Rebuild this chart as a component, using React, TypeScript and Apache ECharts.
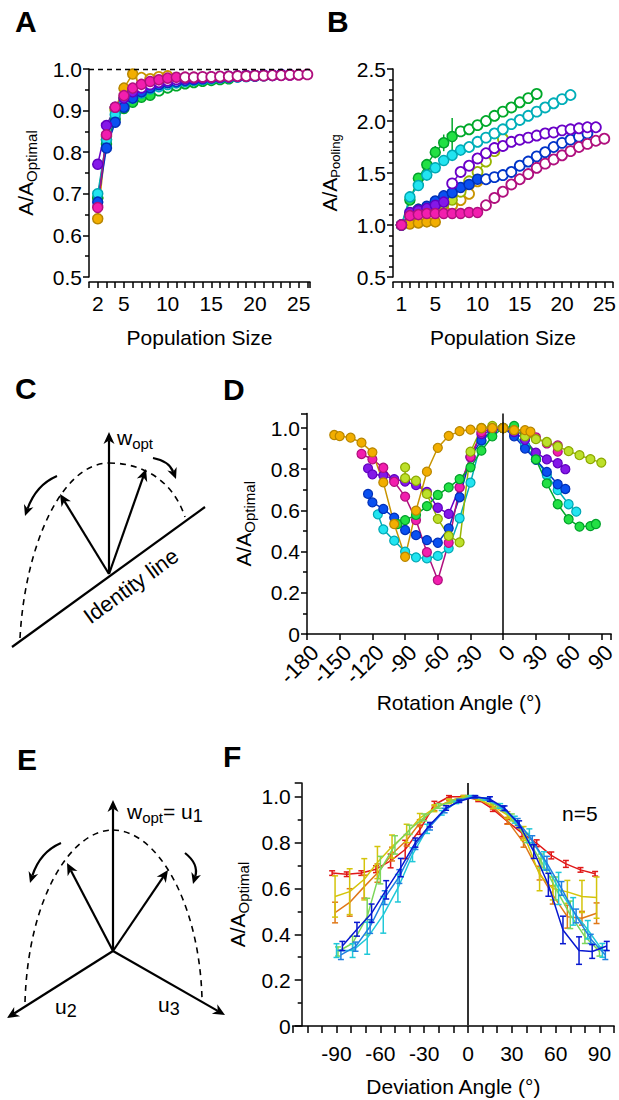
import React, { useEffect, useRef } from 'react';
import * as echarts from 'echarts';

const FONT = '"Liberation Sans", Arial, Helvetica, sans-serif';
const LS = 21; // tick label size

// ================= Panel A (x = population size, starting at 2) =================
const A_X0 = 2;
const A_ORANGE = [0.640, 0.838, 0.905, 0.954, 0.988, 0.979, 0.976, 0.981, 0.983];
const A_YG = [0.690, 0.830, 0.900, 0.930, 0.945, 0.955, 0.962, 0.968, 0.972, 0.975, 0.977, 0.979];
const A_GREEN = [0.690, 0.820, 0.880, 0.905, 0.920, 0.932, 0.937, 0.948, 0.955, 0.960, 0.965, 0.968, 0.971, 0.973, 0.975, 0.977];
const A_CYAN = [0.700, 0.830, 0.890, 0.915, 0.930, 0.942, 0.952, 0.958, 0.963, 0.967, 0.970, 0.973, 0.975, 0.977, 0.979, 0.980, 0.981, 0.982, 0.983, 0.984];
const A_BLUE = [0.680, 0.810, 0.872, 0.908, 0.930, 0.945, 0.955, 0.962, 0.967, 0.970, 0.973, 0.975, 0.977, 0.979, 0.980, 0.981, 0.982, 0.983, 0.984, 0.985, 0.985, 0.986];
const A_PURPLE = [0.771, 0.864, 0.908, 0.930, 0.945, 0.955, 0.963, 0.968, 0.972, 0.975, 0.977, 0.978, 0.979, 0.980, 0.981, 0.982, 0.983, 0.984, 0.984, 0.985, 0.985, 0.986, 0.986];
const A_MAGENTA = [0.667, 0.842, 0.908, 0.936, 0.954, 0.963, 0.970, 0.974, 0.978, 0.980, 0.980, 0.980, 0.981, 0.981, 0.982, 0.982, 0.983, 0.983, 0.984, 0.984, 0.985, 0.985, 0.986, 0.986, 0.987];
const A_FILLED = [5, 8, 7, 7, 9, 5, 10]; // orange, yg, green, cyan, blue, purple, magenta
const A_XLABELS = [2, 5, 10, 15, 20, 25];

// ================= Panel B (x starting at 1) =================
const B_X0 = 1;
const B_ORANGE = [1.00, 1.01, 1.02, 1.03, 1.03, 1.14, 1.19, 1.24, 1.30, 1.42];
const B_YG = [1.00, 1.10, 1.15, 1.17, 1.18, 1.20, 1.24, 1.32, 1.42, 1.51, 1.61, 1.71, 1.83];
const B_GREEN = [1.00, 1.24, 1.45, 1.58, 1.70, 1.79, 1.85, 1.90, 1.92, 1.96, 2.00, 2.05, 2.09, 2.13, 2.18, 2.22, 2.26];
const B_CYAN = [1.00, 1.27, 1.38, 1.48, 1.55, 1.62, 1.67, 1.72, 1.75, 1.80, 1.84, 1.88, 1.92, 1.97, 2.01, 2.05, 2.09, 2.13, 2.17, 2.21, 2.25];
const B_BLUE = [1.00, 1.10, 1.15, 1.18, 1.23, 1.28, 1.31, 1.36, 1.39, 1.44, 1.44, 1.46, 1.48, 1.51, 1.57, 1.61, 1.66, 1.70, 1.75, 1.79, 1.82, 1.85, 1.88];
const B_PURPLE = [1.00, 1.12, 1.14, 1.16, 1.19, 1.22, 1.40, 1.51, 1.57, 1.64, 1.69, 1.74, 1.76, 1.80, 1.82, 1.84, 1.86, 1.88, 1.89, 1.91, 1.92, 1.93, 1.94, 1.94];
const B_MAGENTA = [1.00, 1.09, 1.10, 1.11, 1.11, 1.11, 1.11, 1.11, 1.12, 1.12, 1.19, 1.26, 1.32, 1.39, 1.44, 1.49, 1.55, 1.59, 1.63, 1.67, 1.71, 1.75, 1.78, 1.81, 1.83];
const B_FILLED = [5, 7, 7, 8, 10, 6, 10];
const B_GREEN_ERR = [0, 0.02, 0.03, 0.04, 0.06, 0.08, 0.18];
const B_XLABELS = [1, 5, 10, 15, 20, 25];

// ================= Panel D (rotation angle) =================
const D_ORANGE_X = [-155, -150, -140, -130, -120, -110, -100, -90, -80, -70, -60, -50, -40, -30, -20, -10, 0, 10, 20, 25];
const D_ORANGE_Y = [0.966, 0.961, 0.953, 0.929, 0.882, 0.736, 0.534, 0.375, 0.599, 0.788, 0.904, 0.962, 0.985, 0.992, 0.999, 1.0, 1.0, 0.99, 0.99, 0.982];
const D_YG_X = [-90, -90, -80, -70, -60, -50, -40, -30, -20, -10, 0, 10, 20, 30, 40, 50, 60, 70, 80, 90];
const D_YG_Y = [0.809, 0.757, 0.744, 0.680, 0.559, 0.476, 0.445, 0.885, 1.0, 1.01, 1.0, 0.99, 0.96, 0.946, 0.932, 0.91, 0.888, 0.868, 0.849, 0.832];
const D_GREEN_X = [-97, -90, -80, -70, -60, -50, -40, -30, -20, -10, 0, 10, 20, 30, 40, 50, 60, 70, 80, 85];
const D_GREEN_Y = [0.534, 0.553, 0.578, 0.621, 0.675, 0.712, 0.752, 0.809, 0.89, 0.96, 1.0, 1.01, 0.965, 0.848, 0.731, 0.63, 0.557, 0.521, 0.524, 0.534];
const D_CYAN_X = [-115, -110, -100, -90, -80, -70, -60, -50, -40, -30, -20, -10, 0, 10, 20, 30, 40, 50, 60, 67];
const D_CYAN_Y = [0.581, 0.508, 0.453, 0.40, 0.372, 0.367, 0.379, 0.416, 0.562, 0.735, 0.937, 0.98, 1.0, 0.97, 0.914, 0.85, 0.772, 0.699, 0.63, 0.594];
const D_BLUE_X = [-124, -120, -110, -100, -90, -80, -70, -60, -50, -40, -30, -20, -10, 0, 10, 20, 30, 40, 50, 57];
const D_BLUE_Y = [0.68, 0.639, 0.607, 0.565, 0.505, 0.48, 0.456, 0.443, 0.513, 0.664, 0.86, 0.94, 0.99, 1.0, 0.96, 0.90, 0.846, 0.787, 0.727, 0.704];
const D_PURPLE_X = [-124, -120, -110, -100, -90, -80, -70, -60, -50, -40, -30, -20, -10, 0, 10, 20, 30, 40, 50, 57];
const D_PURPLE_Y = [0.804, 0.775, 0.77, 0.752, 0.74, 0.723, 0.69, 0.613, 0.583, 0.712, 0.857, 0.97, 0.99, 1.0, 0.98, 0.943, 0.88, 0.848, 0.829, 0.80];
const D_MAGENTA_X = [-130, -120, -110, -100, -90, -80, -70, -60, -50, -40, -30, -20, -10, 0, 10, 20, 30, 40, 50, 50];
const D_MAGENTA_Y = [0.874, 0.848, 0.807, 0.739, 0.667, 0.553, 0.397, 0.262, 0.443, 0.712, 0.86, 0.98, 1.0, 1.0, 0.99, 0.965, 0.955, 0.925, 0.915, 0.885];
const D_XLABELS = [-180, -150, -120, -90, -60, -30, 0, 30, 60, 90];
const D_YLABELS = [0, 0.2, 0.4, 0.6, 0.8, 1.0];

// ================= Panel F (deviation angle, mean ± error) =================
const F_RED_X = [-93, -83, -73, -63, -53, -43, -33, -23, -13, -3, 7, 17, 27, 37, 47, 57, 67, 77, 87];
const F_RED_Y = [0.667, 0.662, 0.667, 0.684, 0.72, 0.77, 0.856, 0.965, 1.0, 1.0, 0.987, 0.946, 0.892, 0.841, 0.797, 0.744, 0.707, 0.681, 0.664];
const F_RED_E = [0.01, 0.01, 0.01, 0.015, 0.03, 0.04, 0.02, 0.015, 0.005, 0.005, 0.008, 0.01, 0.01, 0.015, 0.015, 0.015, 0.015, 0.01, 0.01];
const F_ORANGE_X = [-91, -81, -71, -62, -52, -42, -33, -23, -13, -3, 7, 17, 27, 38, 49, 58, 68, 78, 88];
const F_ORANGE_Y = [0.495, 0.539, 0.608, 0.667, 0.75, 0.81, 0.885, 0.95, 0.98, 1.0, 0.99, 0.956, 0.895, 0.80, 0.667, 0.572, 0.477, 0.47, 0.492];
const F_ORANGE_E = [0.045, 0.06, 0.05, 0.04, 0.03, 0.025, 0.015, 0.01, 0.005, 0.005, 0.005, 0.01, 0.015, 0.02, 0.03, 0.04, 0.05, 0.03, 0.045];
const F_YELLOW_X = [-91, -81, -71, -62, -52, -42, -33, -23, -13, -3, 7, 17, 27, 38, 49, 58, 68, 78, 88];
const F_YELLOW_Y = [0.565, 0.586, 0.64, 0.713, 0.783, 0.84, 0.907, 0.95, 0.98, 1.0, 0.99, 0.96, 0.92, 0.84, 0.66, 0.60, 0.585, 0.565, 0.56];
const F_YELLOW_E = [0.09, 0.1, 0.09, 0.07, 0.05, 0.04, 0.02, 0.015, 0.01, 0.005, 0.005, 0.01, 0.015, 0.03, 0.07, 0.05, 0.05, 0.07, 0.09];
const F_GREEN_X = [-89, -79, -69, -60, -50, -40, -30, -20, -10, 0, 10, 20, 30, 40, 50, 60, 70, 80, 90];
const F_GREEN_Y = [0.325, 0.361, 0.477, 0.68, 0.79, 0.856, 0.91, 0.96, 0.98, 1.0, 0.99, 0.96, 0.91, 0.82, 0.72, 0.60, 0.485, 0.39, 0.325];
const F_GREEN_E = [0.02, 0.03, 0.08, 0.06, 0.04, 0.02, 0.015, 0.01, 0.005, 0.005, 0.005, 0.01, 0.015, 0.02, 0.03, 0.05, 0.06, 0.03, 0.02];
const F_CYAN_X = [-90, -79, -69, -58, -48, -38, -28, -18, -8, 2, 12, 22, 32, 42, 52, 62, 72, 82, 92];
const F_CYAN_Y = [0.329, 0.329, 0.383, 0.485, 0.601, 0.747, 0.86, 0.93, 0.975, 1.0, 0.99, 0.96, 0.9, 0.83, 0.72, 0.60, 0.50, 0.42, 0.33];
const F_CYAN_E = [0.03, 0.03, 0.07, 0.08, 0.06, 0.03, 0.02, 0.01, 0.005, 0.005, 0.005, 0.01, 0.015, 0.03, 0.04, 0.07, 0.06, 0.04, 0.03];
const F_AZURE_X = [-87, -77, -67, -57, -47, -36, -26, -16, -6, 4, 14, 24, 34, 44, 54, 64, 74, 84, 94];
const F_AZURE_Y = [0.31, 0.346, 0.434, 0.56, 0.652, 0.79, 0.87, 0.94, 0.985, 1.0, 0.99, 0.95, 0.89, 0.81, 0.71, 0.60, 0.48, 0.38, 0.31];
const F_AZURE_E = [0.02, 0.02, 0.03, 0.03, 0.03, 0.02, 0.015, 0.01, 0.005, 0.005, 0.005, 0.01, 0.015, 0.02, 0.03, 0.03, 0.03, 0.02, 0.02];
const F_BLUE_X = [-86, -76, -66, -56, -46, -36, -26, -15, -6, 5, 15, 25, 35, 45, 55, 65, 76, 85, 95];
const F_BLUE_Y = [0.349, 0.422, 0.492, 0.594, 0.691, 0.80, 0.878, 0.951, 0.98, 1.0, 0.99, 0.95, 0.88, 0.761, 0.616, 0.419, 0.329, 0.325, 0.349];
const F_BLUE_E = [0.02, 0.03, 0.04, 0.04, 0.04, 0.02, 0.01, 0.01, 0.005, 0.005, 0.01, 0.01, 0.015, 0.03, 0.05, 0.06, 0.06, 0.03, 0.02];
const F_XLABELS = [-90, -60, -30, 0, 30, 60, 90];
const F_YLABELS = [0, 0.2, 0.4, 0.6, 0.8, 1.0];

// ================= colours =================
const COL = {
  orange: { line: '#C89400', fill: '#F2AE00', edge: '#B88600' },
  yg: { line: '#98B400', fill: '#BCE02A', edge: '#8CA800' },
  green: { line: '#00A82A', fill: '#22E044', edge: '#00A02A' },
  cyan: { line: '#00AEB8', fill: '#22E4F0', edge: '#00A8B4' },
  blue: { line: '#0034C8', fill: '#0A50F0', edge: '#0030B8' },
  purple: { line: '#6A00C8', fill: '#8418E8', edge: '#6000C0' },
  magenta: { line: '#B0107E', fill: '#F21EAE', edge: '#B0107E' },
};
const F_COL = { red: '#E01818', orange: '#E07818', yellow: '#D4C40C', green: '#7CD65A', cyan: '#20C8D8', azure: '#2080E0', blue: '#0818D0' };

function richFor(sub: number) {
  return {
    m: { fontSize: LS, fontFamily: FONT, color: '#000', lineHeight: 24 },
    s: { fontSize: sub, fontFamily: FONT, color: '#000', lineHeight: 24, padding: [12, 0, 0, 0] },
  };
}

function near(list: number[], v: number) {
  return list.some((t) => Math.abs(t - v) < 1e-6);
}

function axisStyle() {
  return {
    axisLine: { onZero: false, lineStyle: { color: '#000', width: 1.5 } },
    axisTick: { length: 6, lineStyle: { color: '#000', width: 1.5 } },
    splitLine: { show: false },
    axisLabel: { color: '#000', fontSize: LS, fontFamily: FONT },
  };
}

function popSeries(ax: number, x0: number, vals: number[], filled: number, c: any, size: number, extra: any = {}) {
  return {
    type: 'line',
    xAxisIndex: ax,
    yAxisIndex: ax,
    symbol: 'circle',
    symbolSize: size,
    lineStyle: { color: c.line, width: 1.5 },
    itemStyle: { borderWidth: 1.5 },
    data: vals.map((v, i) => ({
      value: [x0 + i, v],
      itemStyle: i < filled ? { color: c.fill, borderColor: c.edge, borderWidth: 1.5 } : { color: '#fff', borderColor: c.line, borderWidth: 1.8 },
    })),
    ...extra,
  };
}

function dSeries(xs: number[], ys: number[], c: any, extra: any = {}) {
  return {
    type: 'line',
    xAxisIndex: 2,
    yAxisIndex: 2,
    symbol: 'circle',
    symbolSize: 9,
    lineStyle: { color: c.line, width: 1.5 },
    itemStyle: { color: c.fill, borderColor: c.edge, borderWidth: 1.2 },
    data: xs.map((x, i) => [x, ys[i]]),
    ...extra,
  };
}

function errSeries(ax: number, xs: number[], ys: number[], es: number[], color: string, cap: number, z: number) {
  return {
    type: 'custom',
    xAxisIndex: ax,
    yAxisIndex: ax,
    z,
    encode: { x: 0, y: 1 },
    data: xs.map((x, i) => [x, ys[i], es[i]]),
    renderItem: (_p: any, api: any) => {
      const x = api.value(0), y = api.value(1), e = api.value(2);
      if (!e) return null;
      const lo = api.coord([x, y - e]);
      const hi = api.coord([x, y + e]);
      const st = { stroke: color, lineWidth: 1.5 };
      return {
        type: 'group',
        children: [
          { type: 'line', shape: { x1: lo[0], y1: lo[1], x2: hi[0], y2: hi[1] }, style: st },
          { type: 'line', shape: { x1: lo[0] - cap, y1: lo[1], x2: lo[0] + cap, y2: lo[1] }, style: st },
          { type: 'line', shape: { x1: hi[0] - cap, y1: hi[1], x2: hi[0] + cap, y2: hi[1] }, style: st },
        ],
      };
    },
  };
}

function fLine(xs: number[], ys: number[], color: string, z: number, extra: any = {}) {
  return {
    type: 'line',
    xAxisIndex: 3,
    yAxisIndex: 3,
    z,
    symbol: 'none',
    lineStyle: { color, width: 1.5 },
    data: xs.map((x, i) => [x, ys[i]]),
    ...extra,
  };
}

// ---------- diagram helpers ----------
function arrowEls(x1: number, y1: number, x2: number, y2: number, head = 12, half = 5.5) {
  const dx = x2 - x1, dy = y2 - y1, L = Math.hypot(dx, dy);
  const ux = dx / L, uy = dy / L, nx = -uy, ny = ux;
  const bx = x2 - ux * head, by = y2 - uy * head;
  const mx = x2 - ux * head * 0.7, my = y2 - uy * head * 0.7;
  return [
    { type: 'line', shape: { x1, y1, x2: mx, y2: my }, style: { stroke: '#000', lineWidth: 2.2 } },
    { type: 'polygon', shape: { points: [[x2, y2], [bx + nx * half, by + ny * half], [mx, my], [bx - nx * half, by - ny * half]] }, style: { fill: '#000' } },
  ];
}
function curvedArrowEls(x1: number, y1: number, cx: number, cy: number, x2: number, y2: number, head = 11, half = 5) {
  const dx = x2 - cx, dy = y2 - cy, L = Math.hypot(dx, dy);
  const ux = dx / L, uy = dy / L, nx = -uy, ny = ux;
  const bx = x2 - ux * head, by = y2 - uy * head;
  const mx = x2 - ux * head * 0.7, my = y2 - uy * head * 0.7;
  return [
    { type: 'bezierCurve', shape: { x1, y1, x2: mx, y2: my, cpx1: cx, cpy1: cy }, style: { stroke: '#000', lineWidth: 2.2, fill: null } },
    { type: 'polygon', shape: { points: [[x2, y2], [bx + nx * half, by + ny * half], [mx, my], [bx - nx * half, by - ny * half]] }, style: { fill: '#000' } },
  ];
}
function dashedCubic(x1: number, y1: number, c1x: number, c1y: number, c2x: number, c2y: number, x2: number, y2: number) {
  return { type: 'bezierCurve', shape: { x1, y1, x2, y2, cpx1: c1x, cpy1: c1y, cpx2: c2x, cpy2: c2y }, style: { stroke: '#000', lineWidth: 1.6, lineDash: [6, 5], fill: null } };
}
function txt(x: number, y: number, text: string, extra: any = {}) {
  return { type: 'text', x, y, style: { text, fontFamily: FONT, fontSize: LS, fill: '#000', align: 'left', verticalAlign: 'middle', ...extra } };
}
function panelLetter(x: number, y: number, t: string) {
  return txt(x, y, t, { fontSize: 30, fontWeight: 'bold' });
}

const SUBRICH = {
  m: { fontSize: LS, fontFamily: FONT, color: '#000', lineHeight: 24 },
  s: { fontSize: 15, fontFamily: FONT, color: '#000', lineHeight: 24, padding: [12, 0, 0, 0] },
  s2: { fontSize: 18, fontFamily: FONT, color: '#000', lineHeight: 24, padding: [10, 0, 0, 0] },
};

function diagramC() {
  const O: [number, number] = [109, 574];
  return [
    { type: 'line', shape: { x1: 12, y1: 647, x2: 205, y2: 507 }, style: { stroke: '#000', lineWidth: 2.2 } },
    dashedCubic(20, 638, 25, 545, 62, 463, 109, 463),
    dashedCubic(109, 463, 140, 463, 172, 478, 185, 517),
    ...arrowEls(O[0], O[1], 109, 432),
    ...arrowEls(O[0], O[1], 60, 494),
    ...arrowEls(O[0], O[1], 146, 469),
    ...curvedArrowEls(57, 476, 36, 485, 25, 516),
    ...curvedArrowEls(153, 458, 169, 461, 176, 479),
    { type: 'text', x: 117, y: 437, style: { text: '{m|w}{s|opt}', rich: SUBRICH, align: 'left', verticalAlign: 'middle' } },
    { type: 'text', x: 131, y: 586, rotation: Math.atan2(140, 193), style: { text: 'Identity line', fontFamily: FONT, fontSize: 22, fill: '#000', align: 'center', verticalAlign: 'middle' } },
  ];
}

function diagramE() {
  const O: [number, number] = [113, 951];
  return [
    dashedCubic(25, 1002, 28, 900, 70, 830, 113, 830),
    dashedCubic(113, 830, 156, 830, 199, 900, 202, 998),
    ...arrowEls(O[0], O[1], 113, 800),
    ...arrowEls(O[0], O[1], 67, 863),
    ...arrowEls(O[0], O[1], 168, 870),
    ...arrowEls(O[0], O[1], 7, 1018),
    ...arrowEls(O[0], O[1], 225, 1015),
    ...curvedArrowEls(61, 843, 40, 852, 30, 883),
    ...curvedArrowEls(185, 853, 199, 864, 193, 884),
    { type: 'text', x: 127, y: 811, style: { text: '{m|w}{s|opt}{m|= u}{s2|1}', rich: SUBRICH, align: 'left', verticalAlign: 'middle' } },
    { type: 'text', x: 55, y: 1006, style: { text: '{m|u}{s2|2}', rich: SUBRICH, align: 'left', verticalAlign: 'middle' } },
    { type: 'text', x: 158, y: 1004, style: { text: '{m|u}{s2|3}', rich: SUBRICH, align: 'left', verticalAlign: 'middle' } },
  ];
}

function buildOption() {
  const grids = [
    { left: 89, top: 69, width: 221, height: 208 },
    { left: 393, top: 69, width: 221, height: 208 },
    { left: 307, top: 413.6, width: 311, height: 220.4 },
    { left: 292.7, top: 783, width: 321.4, height: 243 },
  ];
  const nameStyle = { fontSize: LS, fontFamily: FONT, color: '#000' };
  const xAxes = [
    {
      ...axisStyle(), type: 'value', gridIndex: 0, min: 1, max: 26.3, interval: 1, offset: 5,
      axisLabel: { ...axisStyle().axisLabel, margin: 11, formatter: (v: number) => (near(A_XLABELS, v) ? String(v) : '') },
      name: 'Population Size', nameLocation: 'middle', nameGap: 45, nameTextStyle: nameStyle,
    },
    {
      ...axisStyle(), type: 'value', gridIndex: 1, min: 0, max: 26, interval: 1, offset: 5,
      axisLabel: { ...axisStyle().axisLabel, margin: 11, formatter: (v: number) => (near(B_XLABELS, v) ? String(v) : '') },
      name: 'Population Size', nameLocation: 'middle', nameGap: 45, nameTextStyle: nameStyle,
    },
    {
      ...axisStyle(), type: 'value', gridIndex: 2, min: -180, max: 99, interval: 30,
      axisLabel: { ...axisStyle().axisLabel, fontSize: 22, margin: 7, rotate: 45, verticalAlign: 'top', formatter: (v: number) => (near(D_XLABELS, v) ? String(v) : '') },
      name: 'Rotation Angle (°)', nameLocation: 'middle', nameGap: 58, nameTextStyle: nameStyle,
    },
    {
      ...axisStyle(), type: 'value', gridIndex: 3, min: -120, max: 100, interval: 10,
      axisTick: { length: 7, lineStyle: { color: '#000', width: 1.5 } },
      axisLabel: { ...axisStyle().axisLabel, margin: 17, formatter: (v: number) => (near(F_XLABELS, v) ? String(v) : '') },
      name: 'Deviation Angle (°)', nameLocation: 'middle', nameGap: 50, nameTextStyle: nameStyle,
    },
  ];
  const yName = (sub: string, gap: number, subSize = 15) => ({
    name: `{m|A/A}{s|${sub}}`, nameLocation: 'middle', nameRotate: 90, nameGap: gap,
    nameTextStyle: { rich: richFor(subSize) },
  });
  const minor = (split: number) => ({ show: true, splitNumber: split, length: 4, lineStyle: { color: '#000', width: 1.5 } });
  const yAxes = [
    {
      ...axisStyle(), type: 'value', gridIndex: 0, min: 0.5, max: 1.0, interval: 0.1, minorTick: minor(2),
      axisLabel: { ...axisStyle().axisLabel, margin: 7, formatter: (v: number) => v.toFixed(1) },
      ...yName('Optimal', 52),
    },
    {
      ...axisStyle(), type: 'value', gridIndex: 1, min: 0.5, max: 2.5, interval: 0.5, minorTick: minor(5),
      axisLabel: { ...axisStyle().axisLabel, margin: 7, formatter: (v: number) => v.toFixed(1) },
      ...yName('Pooling', 52, 13),
    },
    {
      ...axisStyle(), type: 'value', gridIndex: 2, min: 0, max: 1.07, interval: 0.2, minorTick: minor(2),
      axisLabel: { ...axisStyle().axisLabel, margin: 7, formatter: (v: number) => (near(D_YLABELS, v) ? (v === 0 ? '0' : v.toFixed(1)) : '') },
      ...yName('Optimal', 52),
    },
    {
      ...axisStyle(), type: 'value', gridIndex: 3, min: 0, max: 1.06, interval: 0.2, offset: -9, minorTick: minor(2),
      axisTick: { length: 7, lineStyle: { color: '#000', width: 1.5 } },
      axisLabel: { ...axisStyle().axisLabel, margin: 11, formatter: (v: number) => (near(F_YLABELS, v) ? (v === 0 ? '0' : v.toFixed(1)) : '') },
      ...yName('Optimal', 52),
    },
  ];

  const aKeys = ['orange', 'yg', 'green', 'cyan', 'blue', 'purple', 'magenta'];
  const aVals = [A_ORANGE, A_YG, A_GREEN, A_CYAN, A_BLUE, A_PURPLE, A_MAGENTA];
  const bVals = [B_ORANGE, B_YG, B_GREEN, B_CYAN, B_BLUE, B_PURPLE, B_MAGENTA];

  const series: any[] = [];
  aKeys.forEach((k, i) => {
    const extra = i === 0 ? {
      markLine: { silent: true, symbol: 'none', label: { show: false }, lineStyle: { color: '#000', type: [5, 4], width: 1.3 }, data: [{ yAxis: 1.0 }] },
    } : {};
    series.push(popSeries(0, A_X0, aVals[i], A_FILLED[i], (COL as any)[k], 10, extra));
  });
  aKeys.forEach((k, i) => {
    series.push(popSeries(1, B_X0, bVals[i], B_FILLED[i], (COL as any)[k], 10));
    if (k === 'green') {
      series.push(errSeries(1, B_GREEN_ERR.map((_, j) => B_X0 + j), B_GREEN.slice(0, B_GREEN_ERR.length), B_GREEN_ERR, COL.green.line, 0, 1));
    }
  });

  series.push(dSeries(D_CYAN_X, D_CYAN_Y, COL.cyan, {
    markLine: { silent: true, symbol: 'none', label: { show: false }, lineStyle: { color: '#000', type: 'solid', width: 1.5 }, data: [{ xAxis: 0 }] },
  }));
  series.push(dSeries(D_BLUE_X, D_BLUE_Y, COL.blue));
  series.push(dSeries(D_PURPLE_X, D_PURPLE_Y, COL.purple));
  series.push(dSeries(D_MAGENTA_X, D_MAGENTA_Y, COL.magenta));
  series.push(dSeries(D_GREEN_X, D_GREEN_Y, COL.green));
  series.push(dSeries(D_YG_X, D_YG_Y, COL.yg));
  series.push(dSeries(D_ORANGE_X, D_ORANGE_Y, COL.orange));

  const fSets: [number[], number[], number[], string][] = [
    [F_RED_X, F_RED_Y, F_RED_E, F_COL.red],
    [F_ORANGE_X, F_ORANGE_Y, F_ORANGE_E, F_COL.orange],
    [F_YELLOW_X, F_YELLOW_Y, F_YELLOW_E, F_COL.yellow],
    [F_GREEN_X, F_GREEN_Y, F_GREEN_E, F_COL.green],
    [F_CYAN_X, F_CYAN_Y, F_CYAN_E, F_COL.cyan],
    [F_AZURE_X, F_AZURE_Y, F_AZURE_E, F_COL.azure],
    [F_BLUE_X, F_BLUE_Y, F_BLUE_E, F_COL.blue],
  ];
  fSets.forEach(([xs, ys, es, c], i) => {
    const extra = i === 0 ? {
      markLine: { silent: true, symbol: 'none', label: { show: false }, lineStyle: { color: '#333', type: 'solid', width: 2 }, data: [{ xAxis: 0 }] },
    } : {};
    series.push(fLine(xs, ys, c, 2 + i, extra));
    series.push(errSeries(3, xs, ys, es, c, 3, 2 + i));
  });

  const graphic = [
    panelLetter(15, 21, 'A'),
    panelLetter(327, 21, 'B'),
    panelLetter(15, 388, 'C'),
    panelLetter(223, 389, 'D'),
    panelLetter(17, 759, 'E'),
    panelLetter(223, 756, 'F'),
    txt(562, 813, 'n=5'),
    ...diagramC(),
    ...diagramE(),
  ];

  return {
    animation: false,
    backgroundColor: '#fff',
    grid: grids,
    xAxis: xAxes,
    yAxis: yAxes,
    series,
    graphic,
  };
}

export default function App() {
  const ref = useRef<HTMLDivElement>(null);
  useEffect(() => {
    document.body.style.margin = '0';
    if (!ref.current) return;
    const chart = echarts.init(ref.current, undefined, { renderer: 'svg' });
    chart.setOption(buildOption() as any);
    return () => chart.dispose();
  }, []);
  return <div ref={ref} style={{ width: 619, height: 1100, background: '#fff' }} />;
}
